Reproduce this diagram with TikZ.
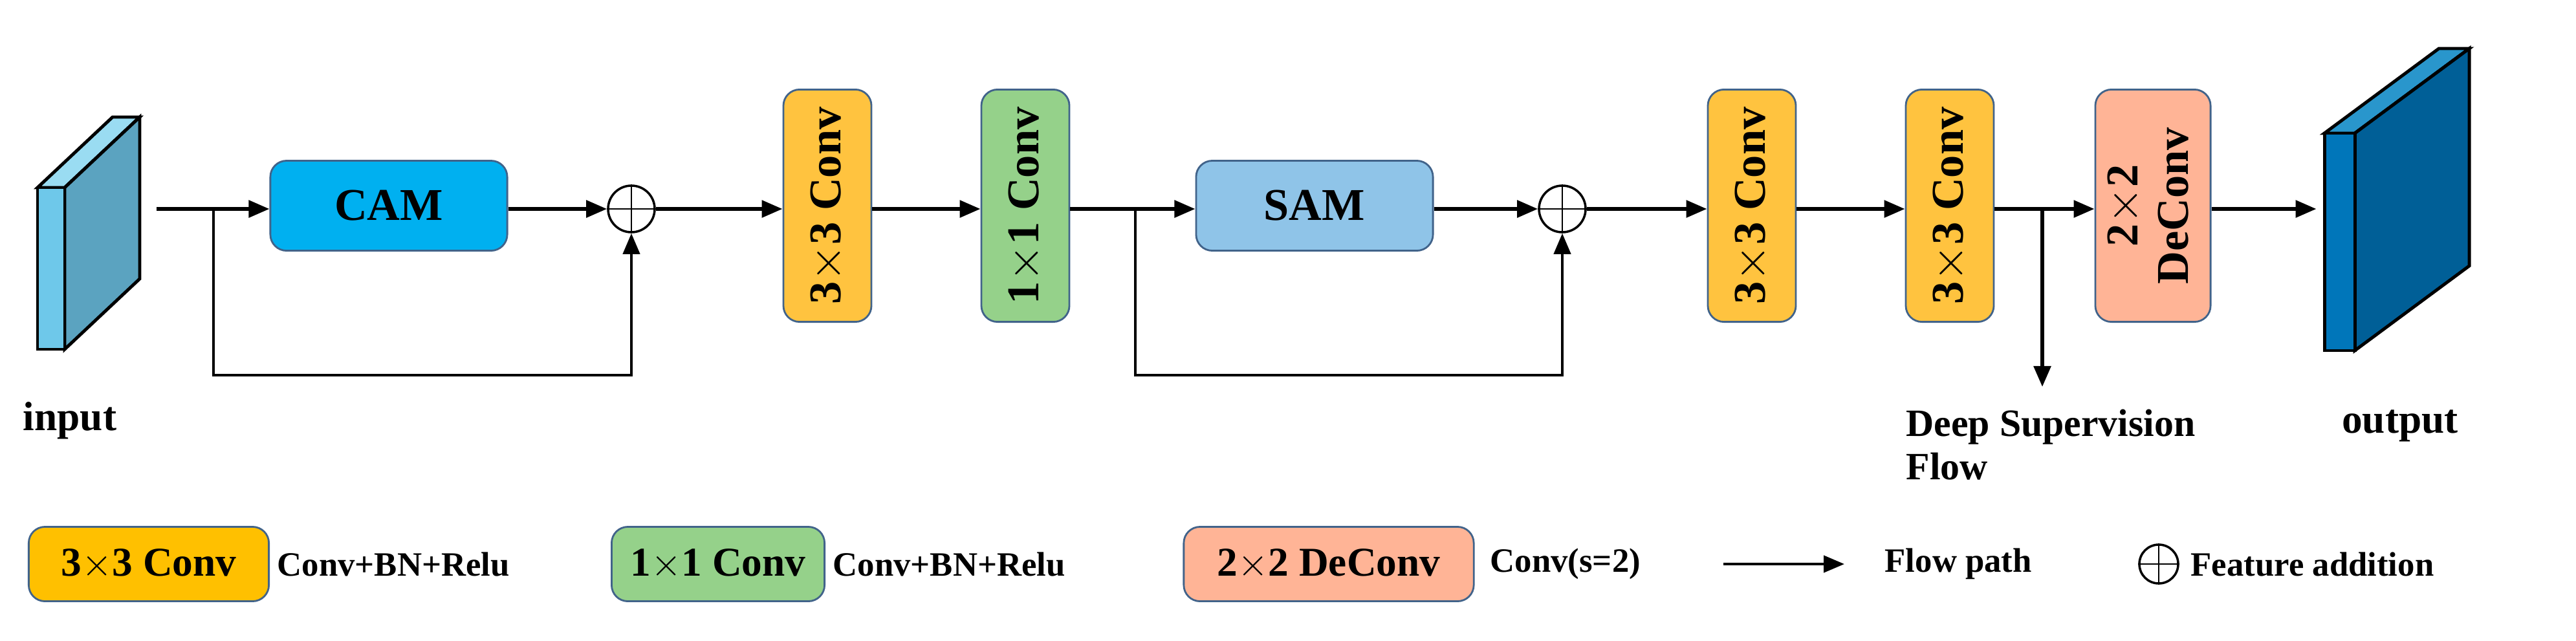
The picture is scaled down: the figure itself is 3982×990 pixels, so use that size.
\documentclass[tikz,border=0pt]{standalone}
\usepackage{fontspec}
\setmainfont{Liberation Serif}
\usetikzlibrary{arrows.meta,positioning,calc}

\definecolor{camblue}{HTML}{00B0F0}
\definecolor{samblue}{HTML}{8FC4E8}
\definecolor{convorange}{HTML}{FFC33F}
\definecolor{legorange}{HTML}{FFC000}
\definecolor{convgreen}{HTML}{95D18A}
\definecolor{deconvred}{HTML}{FFB496}
\definecolor{boxedge}{HTML}{41638A}
\definecolor{infront}{HTML}{6EC8EA}
\definecolor{inside}{HTML}{5BA3C0}
\definecolor{intop}{HTML}{9ADCF2}
\definecolor{outfront}{HTML}{0076BA}
\definecolor{outside}{HTML}{005F97}
\definecolor{outtop}{HTML}{2996CC}

\tikzset{
  flow/.style={-{Triangle[length=0.32cm,width=0.26cm]}, line width=1.6pt},
  line/.style={line width=1.6pt},
  block/.style={rectangle, rounded corners=0.25cm, draw=boxedge, line width=0.8pt, font=\bfseries\fontsize{20}{22}\selectfont, align=center},
  wide/.style={block, minimum width=3.66cm, minimum height=1.39cm},
  tall/.style={block, minimum width=1.36cm, minimum height=3.59cm},
  legend/.style={block, minimum height=1.15cm, font=\bfseries\fontsize{18}{20}\selectfont},
  note/.style={font=\bfseries\fontsize{15}{17}\selectfont, anchor=west, inner sep=0},
  label/.style={font=\bfseries\fontsize{18}{20}\selectfont, inner sep=0},
  plus/.style={circle, draw, line width=1pt, minimum size=0.72cm, inner sep=0},
}

\begin{document}
\begin{tikzpicture}[x=0.01cm, y=-0.01cm]
  \useasboundingbox (0,0) rectangle (3982,990);
  % input feature map
  \fill[intop, draw=black, line width=1.4pt] (58,290) -- (174,181) -- (216,181) -- (100,290) -- cycle;
  \fill[inside, draw=black, line width=1.4pt] (100,290) -- (216,181) -- (216,431) -- (100,540) -- cycle;
  \fill[infront, draw=black, line width=1.4pt] (58,290) rectangle (100,540);
  \node (in) at (100,323) {};
  % output feature map
  \fill[outtop, draw=black, line width=1.4pt] (3593,206) -- (3770,75) -- (3817,75) -- (3640,206) -- cycle;
  \fill[outside, draw=black, line width=1.4pt] (3640,206) -- (3817,75) -- (3817,411) -- (3640,542) -- cycle;
  \fill[outfront, draw=black, line width=1.4pt] (3593,206) rectangle (3640,542);
  \node (out) at (3593,323) {};

  \node[label] (inlab) at (108,650) {input};
  \node[label] (outlab) at (3710,658) {output};

  % main path
  \node (cam) at (601,318) [wide, fill=camblue] {CAM};
  \node (add1) at (976,323) [plus] {};
  \node (c1) at (1279,318) [tall, fill=convorange] {\rotatebox{90}{3$\times$3 Conv}};
  \node (c2) at (1585,318) [tall, fill=convgreen] {\rotatebox{90}{1$\times$1 Conv}};
  \node (sam) at (2032,318) [wide, fill=samblue] {SAM};
  \node (add2) at (2415,323) [plus] {};
  \node (c3) at (2708,318) [tall, fill=convorange] {\rotatebox{90}{3$\times$3 Conv}};
  \node (c4) at (3014,318) [tall, fill=convorange] {\rotatebox{90}{3$\times$3 Conv}};
  \node (dc) at (3328,318) [tall, fill=deconvred] {\rotatebox{90}{\begin{tabular}{c}2$\times$2\\DeConv\end{tabular}}};
  \draw (add1.north) -- (add1.south) (add1.west) -- (add1.east);
  \draw (add2.north) -- (add2.south) (add2.west) -- (add2.east);

  \coordinate (s0) at (242,323);
  \coordinate (s1) at (330,323);
  \coordinate (s2) at (1755,323);
  \coordinate (s3) at (3157,323);
  \coordinate (ds) at (3157,598);

  \draw[line] (s0) -- (s1);
  \draw[flow] (s1) -- (cam.west |- s1);
  \draw[flow] (cam.east |- add1) -- (add1);
  \draw[flow] (add1) -- (c1.west |- add1);
  \draw[flow] (c1.east |- add1) -- (c2.west |- add1);
  \draw[line] (c2.east |- s2) -- (s2);
  \draw[flow] (s2) -- (sam.west |- s2);
  \draw[flow] (sam.east |- add2) -- (add2);
  \draw[flow] (add2) -- (c3.west |- add2);
  \draw[flow] (c3.east |- add2) -- (c4.west |- add2);
  \draw[line] (c4.east |- s3) -- (s3);
  \draw[flow] (s3) -- (dc.west |- s3);
  \draw[flow] (dc.east |- s3) -- (out);
  \draw[flow] (s3) -- (ds);
  % skip connections
  \draw[flow, line width=1.2pt] (s1) -- ++(0,257) -| (add1);
  \draw[flow, line width=1.2pt] (s2) -- ++(0,257) -| (add2);

  \node[note, font=\bfseries\fontsize{17}{19}\selectfont, align=left, anchor=north west] (dsl) at (2946,632) {Deep Supervision\\Flow};

  % legend
  \node (l1) at (230,872) [legend, fill=legorange, minimum width=3.71cm] {3$\times$3 Conv};
  \node[note] (t1) at (428,872) {Conv+BN+Relu};
  \node (l2) at (1110,872) [legend, fill=convgreen, minimum width=3.29cm] {1$\times$1 Conv};
  \node[note] (t2) at (1287,872) {Conv+BN+Relu};
  \node (l3) at (2054,872) [legend, fill=deconvred, minimum width=4.48cm] {2$\times$2 DeConv};
  \node[note] (t3) at (2303,872) {Conv(s=2)};
  \coordinate (a1) at (2664,872);
  \coordinate (a2) at (2851,872);
  \draw[flow, line width=1.2pt] (a1) -- (a2);
  \node[note] (t4) at (2913,872) {Flow path};
  \node (l5) at (3337,872) [plus, minimum size=0.6cm] {};
  \draw (l5.north) -- (l5.south) (l5.west) -- (l5.east);
  \node[note] (t5) at (3386,872) {Feature addition};
\end{tikzpicture}
\end{document}
